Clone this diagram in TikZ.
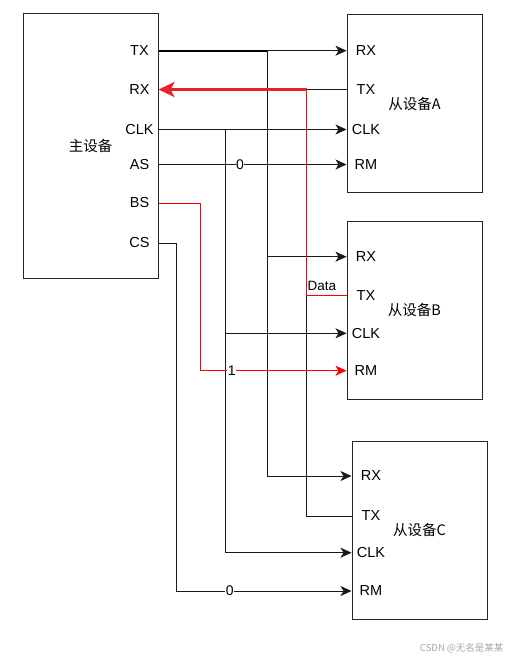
\documentclass[tikz,border=0pt]{standalone}
\usepackage{fontspec}
\setmainfont{Liberation Sans}
\newfontfamily\cjk{Noto Sans CJK SC}
\usetikzlibrary{%
  arrows.meta,%
  calc%
}
\definecolor{thickred}{HTML}{E8222B}
\tikzset{>={Stealth[length=11pt,width=10pt,inset=3pt]}}
\tikzset{
  dev/.style={draw=black!85,line width=1pt,minimum width=135pt,inner sep=0pt,
    font=\cjk\fontsize{14.5}{17}\selectfont},
  pin/.style={inner sep=0pt,font=\fontsize{14.5}{17}\selectfont},
  wire/.style={line width=0.9pt,draw=black!90},
  redwire/.style={line width=0.9pt,draw=red},
  lbl/.style={fill=white,text=black,inner sep=0.5pt,font=\fontsize{14}{16}\selectfont}
}

\begin{document}
\begin{tikzpicture}[x=1pt,y=-1pt]
    \useasboundingbox (0,0) rectangle (511,660);
    % devices
    \node[dev,minimum height=264pt] (master) at (90.5,146) {主设备};
    \node[dev,minimum height=178pt] (slaveA) at (414.5,104) {\raisebox{-3pt}{从设备A}};
    \node[dev,minimum height=178pt] (slaveB) at (414.5,310) {从设备B};
    \node[dev,minimum height=178pt] (slaveC) at (419.5,530) {从设备C};
    % pins
    \node[pin] (mTX) at (139.5,50.7) {TX};
    \node[pin] (mRX) at (139.5,89.5) {RX};
    \node[pin] (mCLK) at (139.5,129.5) {CLK};
    \node[pin] (mAS) at (139.5,164.5) {AS};
    \node[pin] (mBS) at (139.5,203) {BS};
    \node[pin] (mCS) at (139.5,243) {CS};
    \node[pin] (aRX) at (366,50.7) {RX};
    \node[pin] (aTX) at (366,89.5) {TX};
    \node[pin] (aCLK) at (366,129.5) {CLK};
    \node[pin] (aRM) at (366,164.5) {RM};
    \node[pin] (bRX) at (366,256.7) {RX};
    \node[pin] (bTX) at (366,295.7) {TX};
    \node[pin] (bCLK) at (366,333.3) {CLK};
    \node[pin] (bRM) at (366,370.7) {RM};
    \node[pin] (cRX) at (371,476) {RX};
    \node[pin] (cTX) at (371,516) {TX};
    \node[pin] (cCLK) at (371,552.7) {CLK};
    \node[pin] (cRM) at (371,591) {RM};
    % bus corners
    \coordinate (txbus) at (267,50.7);
    \coordinate (rxbus) at (306.5,89.5);
    \coordinate (databus) at (306.5,295.7);
    \coordinate (clkbus) at (225,129.5);
    \coordinate (bsbus) at (200,203);
    \coordinate (csbus) at (176,243);
    % TX -> RX
    \draw[wire,->] (txbus) -- (slaveA.west |- aRX);
    \draw[wire,->] (txbus) |- (slaveB.west |- bRX);
    \draw[wire,->] (txbus) |- (slaveC.west |- cRX);
    \draw[black,line width=2pt] (master.east |- mTX) -- (txbus);
    % slave TX -> RX
    \draw[wire] (slaveA.west |- aTX) -- (rxbus);
    \draw[wire] (slaveC.west |- cTX) -| (databus);
    \draw[redwire] (rxbus) |- (slaveB.west |- bTX);
    \node[anchor=south west,inner sep=1pt,yshift=4pt,
      font=\fontsize{13.5}{16}\selectfont] (data) at (databus) {Data};
    \draw[thickred,line width=3.5pt,-{Stealth[length=16pt,width=15pt,inset=4pt]}]
      (rxbus) -- (master.east |- mRX);
    % CLK
    \draw[wire,->] (master.east |- mCLK) -- (slaveA.west |- aCLK);
    \draw[wire,->] (clkbus) |- (slaveB.west |- bCLK);
    \draw[wire,->] (clkbus) |- (slaveC.west |- cCLK);
    % selects
    \draw[wire,->] (master.east |- mAS) -- node[lbl,pos=0.434] (selA) {0} (slaveA.west |- aRM);
    \draw[redwire,->,red] (master.east |- mBS) -- (bsbus) |- node[lbl,pos=0.608] (selB) {1} (slaveB.west |- bRM);
    \draw[wire,->] (master.east |- mCS) -- (csbus) |- node[lbl,pos=0.653] (selC) {0} (slaveC.west |- cRM);
    % watermark
    \node[anchor=east,text=black!35,font=\cjk\fontsize{9.5}{11}\selectfont] (mark) at (507,648.5) {CSDN @无名是某某};
  \end{tikzpicture}
\end{document}
